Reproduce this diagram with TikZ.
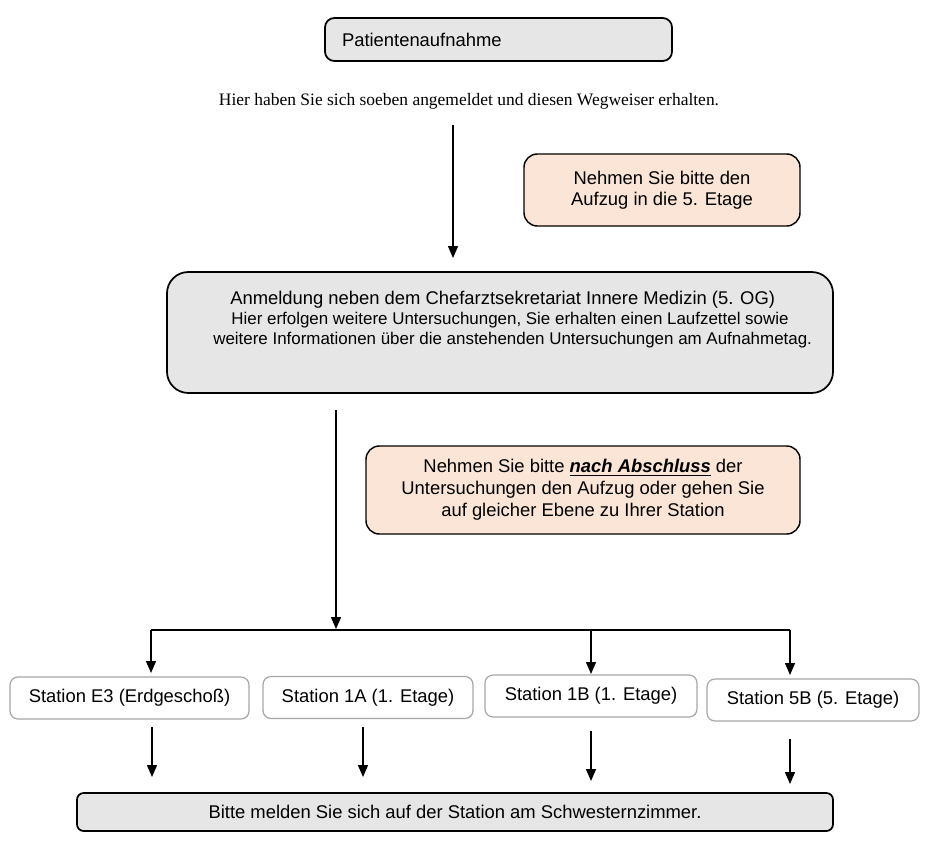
\documentclass[tikz,border=0pt]{standalone}
\usepackage{fontspec}
\setmainfont{Liberation Sans}
\newfontfamily\hintfont{Liberation Serif}
\usetikzlibrary{arrows.meta}
\definecolor{boxgray}{RGB}{230, 230, 230}
\definecolor{notepeach}{RGB}{251, 229, 214}
\definecolor{stationline}{RGB}{166, 166, 166}

\begin{document}
\begin{tikzpicture}[x=0.75pt, y=-0.75pt, >={Triangle[length=9pt, width=7.5pt]},
    every node/.style={font=\fontsize{13.8pt}{16pt}\selectfont},
    graybox/.style={draw=black, line width=1.3pt, fill=boxgray, rounded corners=7pt, inner sep=0pt},
    notebox/.style={draw=black, line width=1.1pt, fill=notepeach, rounded corners=10pt, inner sep=0pt, align=center},
    stationbox/.style={draw=stationline, line width=0.9pt, fill=white, rounded corners=6pt, inner sep=0pt, minimum height=31.5pt},
    flow/.style={->, line width=1.1pt}]
    \useasboundingbox (0,0) rectangle (930,860);

    % admission and first hint
    \node [graybox, minimum width=260.25pt, minimum height=32.25pt, text width=234.75pt, inner xsep=12.75pt, align=left] (admit) at (498.5,39.5) {Patientenaufnahme};
    \node [font=\hintfont\fontsize{13.1pt}{15pt}\selectfont] (hint) at (469,101) {Hier haben Sie sich soeben angemeldet und diesen Wegweiser erhalten.};
    \node [notebox, minimum width=207pt, minimum height=54pt] (lift) at (662,190) {Nehmen Sie bitte den\\Aufzug in die 5. Etage};

    % registration desk
    \node [graybox, rounded corners=16pt] (desk) at (500,332.5) {\parbox[c][90.75pt][t]{499.5pt}{\centering\fontsize{13.8pt}{15pt}\selectfont\rule{0pt}{24pt}\hspace*{4pt}Anmeldung neben dem Chefarztsekretariat Innere Medizin (5. OG)\\
        \fontsize{12.7pt}{15pt}\selectfont\hspace*{15pt}Hier erfolgen weitere Untersuchungen, Sie erhalten einen Laufzettel sowie\\
        \hspace*{19pt}weitere Informationen über die anstehenden Untersuchungen am Aufnahmetag.}};
    \node [notebox, minimum width=325.5pt, minimum height=66pt, font=\fontsize{13.8pt}{16.5pt}\selectfont] (route) at (583,490) {Nehmen Sie bitte \underline{\textbf{\textit{nach Abschluss}}} der\\Untersuchungen den Aufzug oder gehen Sie\\auf gleicher Ebene zu Ihrer Station};

    % stations
    \node [stationbox, minimum width=179.25pt] (stE) at (129.5,698) {Station E3 (Erdgeschoß)};
    \node [stationbox, minimum width=157.5pt] (stA) at (368,697.5) {Station 1A (1. Etage)};
    \node [stationbox, minimum width=159pt] (stB) at (591,696) {Station 1B (1. Etage)};
    \node [stationbox, minimum width=159pt] (stF) at (813,700) {Station 5B (5. Etage)};

    \node [graybox, rounded corners=5pt, minimum width=567pt, minimum height=28.5pt] (ward) at (455,812) {Bitte melden Sie sich auf der Station am Schwesternzimmer.};

    % connectors
    \coordinate (topS) at (453,125);
    \coordinate (topE) at (453,258);
    \coordinate (midS) at (336,410);
    \coordinate (bus) at (336,629);
    \coordinate (busL) at (151,630);
    \coordinate (busB) at (591,630);
    \coordinate (busR) at (790,630);
    \coordinate (outE) at (152,727);
    \coordinate (outA) at (363,727);
    \coordinate (outB) at (591,731);
    \coordinate (outF) at (790,739);

    \draw [flow] (topS) -- (topE);
    \draw [flow] (midS) -- (bus);
    \draw [line width=1.1pt] (busL) -- (busR);
    \draw [flow] (busL) -- ++(0,43);
    \draw [flow] (busB) -- ++(0,44);
    \draw [flow] (busR) -- ++(0,45);

    \draw [flow] (outE) -- ++(0,50);
    \draw [flow] (outA) -- ++(0,50);
    \draw [flow] (outB) -- ++(0,50);
    \draw [flow] (outF) -- ++(0,45);
\end{tikzpicture}
\end{document}
